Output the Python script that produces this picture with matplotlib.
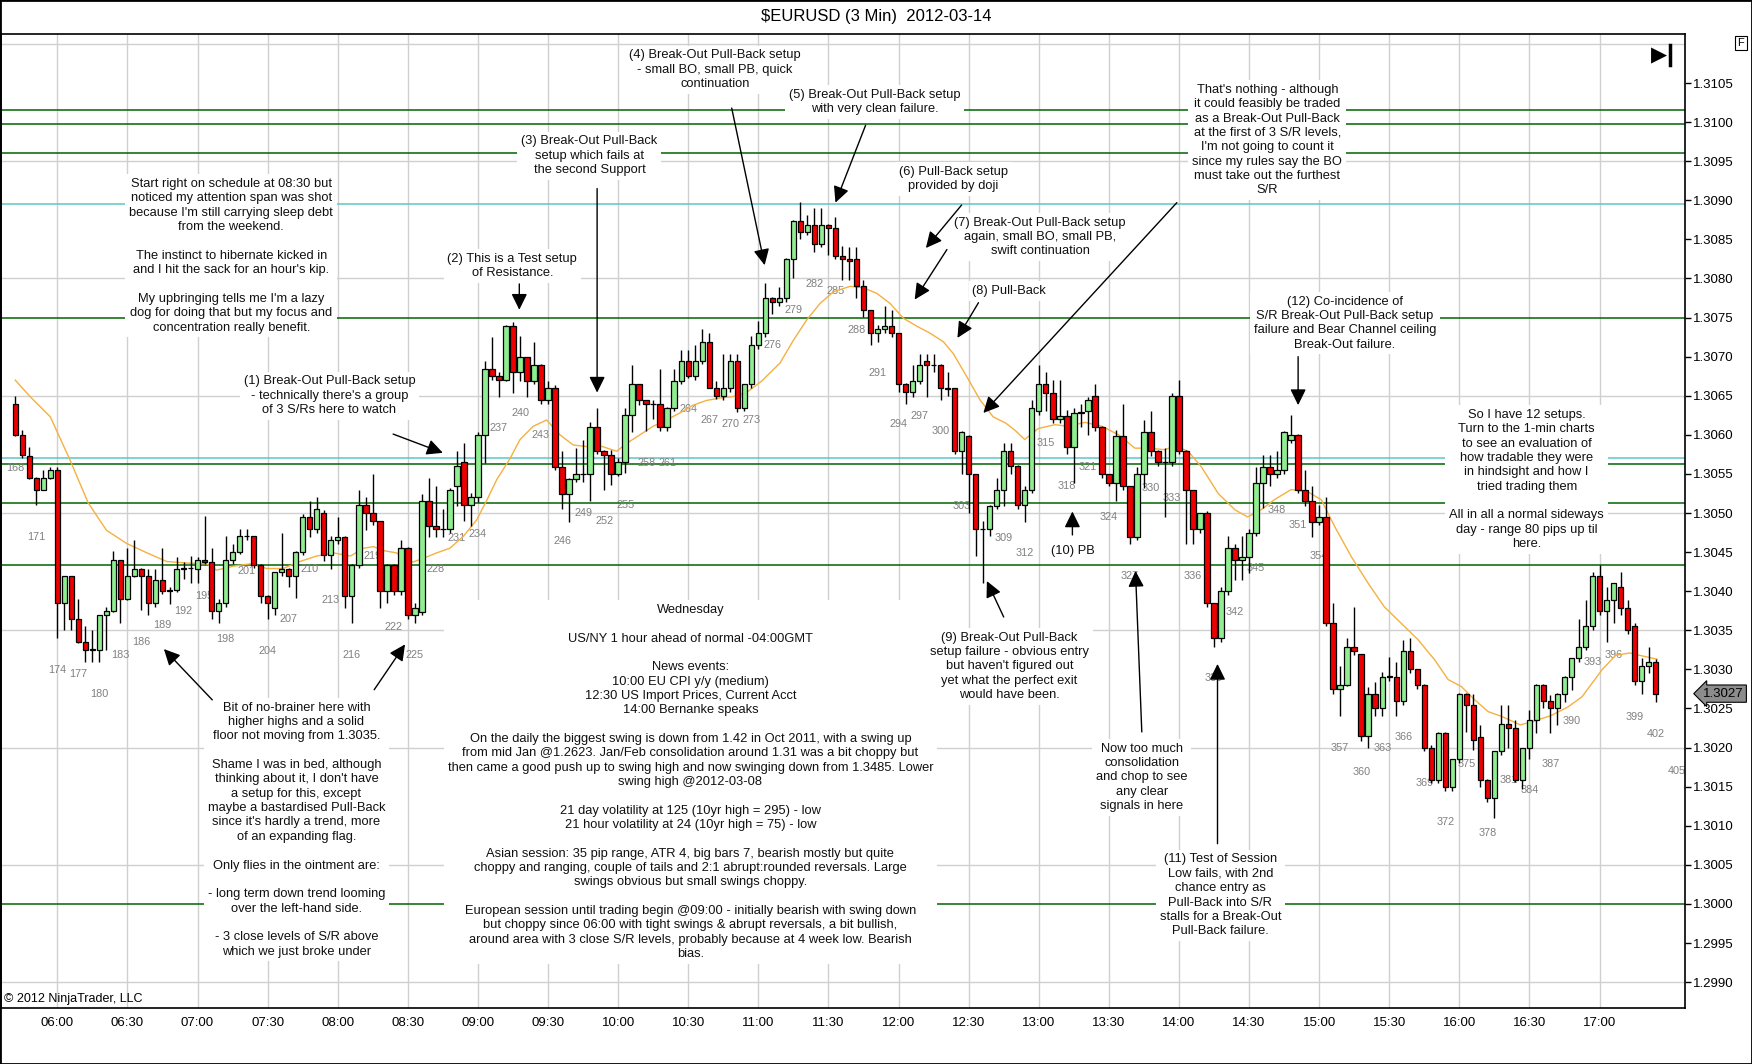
import matplotlib
matplotlib.use("Agg")
import matplotlib.pyplot as plt
from matplotlib.patches import Rectangle
from matplotlib.lines import Line2D
import numpy as np

plt.rcParams['font.family'] = ['Liberation Sans', 'DejaVu Sans']

TITLE = r"\$EURUSD (3 Min)  2012-03-14"
COPYRIGHT = "\u00a9 2012 NinjaTrader, LLC"

# first bar number drawn on the chart; one candle every 3 minutes
FIRST_BAR = 168

opens = [
    1.30640, 1.30600, 1.30573, 1.30545, 1.30530, 1.30545, 1.30555, 1.30385, 1.30419, 1.30364,
    1.30335, 1.30325, 1.30325, 1.30369, 1.30375, 1.30440, 1.30390, 1.30419, 1.30429, 1.30419,
    1.30385, 1.30414, 1.30400, 1.30401, 1.30429, 1.30430, 1.30429, 1.30440, 1.30437, 1.30375,
    1.30385, 1.30440, 1.30450, 1.30470, 1.30470, 1.30434, 1.30394, 1.30379, 1.30424, 1.30429,
    1.30420, 1.30450, 1.30495, 1.30479, 1.30500, 1.30446, 1.30465, 1.30469, 1.30394, 1.30434,
    1.30510, 1.30500, 1.30490, 1.30400, 1.30434, 1.30400, 1.30455, 1.30370, 1.30374, 1.30515,
    1.30484, 1.30479, 1.30479, 1.30535, 1.30565, 1.30510, 1.30520, 1.30600, 1.30684, 1.30675,
    1.30670, 1.30739, 1.30680, 1.30699, 1.30669, 1.30689, 1.30644, 1.30660, 1.30559, 1.30524,
    1.30544, 1.30550, 1.30550, 1.30610, 1.30579, 1.30574, 1.30550, 1.30565, 1.30625, 1.30665,
    1.30644, 1.30640, 1.30640, 1.30610, 1.30634, 1.30669, 1.30694, 1.30675, 1.30694, 1.30719,
    1.30660, 1.30650, 1.30660, 1.30694, 1.30634, 1.30665, 1.30715, 1.30730, 1.30775, 1.30770,
    1.30775, 1.30825, 1.30874, 1.30859, 1.30869, 1.30844, 1.30869, 1.30864, 1.30829, 1.30825,
    1.30825, 1.30790, 1.30760, 1.30730, 1.30735, 1.30739, 1.30730, 1.30665, 1.30655, 1.30669,
    1.30694, 1.30689, 1.30689, 1.30660, 1.30660, 1.30579, 1.30599, 1.30550, 1.30479, 1.30479,
    1.30509, 1.30530, 1.30579, 1.30560, 1.30510, 1.30530, 1.30630, 1.30665, 1.30654, 1.30620,
    1.30624, 1.30584, 1.30628, 1.30630, 1.30650, 1.30610, 1.30550, 1.30539, 1.30599, 1.30534,
    1.30469, 1.30550, 1.30604, 1.30579, 1.30565, 1.30565, 1.30650, 1.30579, 1.30530, 1.30479,
    1.30500, 1.30385, 1.30340, 1.30400, 1.30455, 1.30440, 1.30444, 1.30474, 1.30539, 1.30559,
    1.30550, 1.30555, 1.30594, 1.30600, 1.30530, 1.30515, 1.30489, 1.30495, 1.30359, 1.30275,
    1.30280, 1.30329, 1.30320, 1.30215, 1.30269, 1.30250, 1.30290, 1.30290, 1.30259, 1.30324,
    1.30300, 1.30280, 1.30199, 1.30159, 1.30219, 1.30149, 1.30185, 1.30269, 1.30255, 1.30214,
    1.30159, 1.30135, 1.30195, 1.30230, 1.30225, 1.30159, 1.30200, 1.30235, 1.30280, 1.30260,
    1.30250, 1.30269, 1.30290, 1.30314, 1.30329, 1.30355, 1.30419, 1.30375, 1.30389, 1.30405,
    1.30379, 1.30355, 1.30285, 1.30304, 1.30309,
]

highs = [
    1.30650, 1.30606, 1.30584, 1.30546, 1.30555, 1.30559, 1.30559, 1.30419, 1.30419, 1.30390,
    1.30355, 1.30351, 1.30369, 1.30380, 1.30451, 1.30440, 1.30455, 1.30466, 1.30430, 1.30429,
    1.30429, 1.30455, 1.30406, 1.30444, 1.30438, 1.30445, 1.30444, 1.30496, 1.30455, 1.30390,
    1.30470, 1.30461, 1.30480, 1.30480, 1.30471, 1.30435, 1.30395, 1.30425, 1.30474, 1.30430,
    1.30452, 1.30499, 1.30516, 1.30520, 1.30504, 1.30470, 1.30495, 1.30470, 1.30435, 1.30530,
    1.30521, 1.30550, 1.30490, 1.30435, 1.30435, 1.30466, 1.30456, 1.30385, 1.30524, 1.30545,
    1.30535, 1.30505, 1.30532, 1.30579, 1.30589, 1.30525, 1.30604, 1.30695, 1.30725, 1.30680,
    1.30740, 1.30744, 1.30726, 1.30700, 1.30719, 1.30690, 1.30669, 1.30664, 1.30579, 1.30545,
    1.30583, 1.30594, 1.30616, 1.30634, 1.30580, 1.30580, 1.30570, 1.30634, 1.30689, 1.30665,
    1.30644, 1.30644, 1.30684, 1.30635, 1.30684, 1.30709, 1.30709, 1.30715, 1.30735, 1.30730,
    1.30669, 1.30704, 1.30704, 1.30704, 1.30665, 1.30726, 1.30745, 1.30794, 1.30776, 1.30789,
    1.30826, 1.30875, 1.30898, 1.30881, 1.30890, 1.30890, 1.30870, 1.30879, 1.30841, 1.30840,
    1.30840, 1.30798, 1.30760, 1.30740, 1.30765, 1.30760, 1.30730, 1.30666, 1.30689, 1.30704,
    1.30704, 1.30704, 1.30690, 1.30680, 1.30660, 1.30605, 1.30600, 1.30550, 1.30490, 1.30510,
    1.30545, 1.30589, 1.30589, 1.30561, 1.30534, 1.30645, 1.30689, 1.30680, 1.30670, 1.30670,
    1.30632, 1.30634, 1.30640, 1.30649, 1.30665, 1.30611, 1.30550, 1.30606, 1.30640, 1.30534,
    1.30559, 1.30619, 1.30630, 1.30580, 1.30583, 1.30654, 1.30670, 1.30580, 1.30530, 1.30500,
    1.30503, 1.30385, 1.30406, 1.30470, 1.30460, 1.30470, 1.30480, 1.30559, 1.30574, 1.30574,
    1.30579, 1.30605, 1.30626, 1.30601, 1.30555, 1.30535, 1.30510, 1.30520, 1.30385, 1.30304,
    1.30340, 1.30380, 1.30320, 1.30278, 1.30284, 1.30297, 1.30316, 1.30310, 1.30338, 1.30340,
    1.30301, 1.30281, 1.30203, 1.30220, 1.30220, 1.30186, 1.30270, 1.30270, 1.30269, 1.30229,
    1.30160, 1.30196, 1.30255, 1.30254, 1.30235, 1.30200, 1.30248, 1.30281, 1.30281, 1.30267,
    1.30270, 1.30291, 1.30314, 1.30364, 1.30389, 1.30424, 1.30434, 1.30406, 1.30410, 1.30425,
    1.30389, 1.30359, 1.30314, 1.30329, 1.30313,
]

lows = [
    1.30598, 1.30570, 1.30543, 1.30510, 1.30529, 1.30543, 1.30340, 1.30351, 1.30351, 1.30334,
    1.30310, 1.30309, 1.30309, 1.30325, 1.30374, 1.30359, 1.30389, 1.30418, 1.30376, 1.30370,
    1.30380, 1.30397, 1.30384, 1.30399, 1.30415, 1.30410, 1.30410, 1.30435, 1.30364, 1.30359,
    1.30380, 1.30435, 1.30448, 1.30466, 1.30430, 1.30385, 1.30364, 1.30370, 1.30420, 1.30405,
    1.30391, 1.30446, 1.30469, 1.30475, 1.30439, 1.30429, 1.30460, 1.30379, 1.30359, 1.30430,
    1.30478, 1.30485, 1.30379, 1.30385, 1.30395, 1.30395, 1.30365, 1.30359, 1.30370, 1.30469,
    1.30469, 1.30469, 1.30475, 1.30509, 1.30490, 1.30483, 1.30514, 1.30564, 1.30670, 1.30649,
    1.30669, 1.30654, 1.30669, 1.30649, 1.30665, 1.30640, 1.30640, 1.30555, 1.30505, 1.30489,
    1.30540, 1.30540, 1.30515, 1.30575, 1.30530, 1.30536, 1.30548, 1.30551, 1.30604, 1.30638,
    1.30605, 1.30620, 1.30605, 1.30605, 1.30630, 1.30665, 1.30673, 1.30670, 1.30690, 1.30660,
    1.30646, 1.30645, 1.30655, 1.30629, 1.30630, 1.30660, 1.30710, 1.30725, 1.30755, 1.30765,
    1.30770, 1.30800, 1.30850, 1.30855, 1.30834, 1.30840, 1.30830, 1.30825, 1.30798, 1.30798,
    1.30775, 1.30751, 1.30715, 1.30719, 1.30730, 1.30725, 1.30655, 1.30640, 1.30649, 1.30665,
    1.30649, 1.30680, 1.30645, 1.30650, 1.30575, 1.30550, 1.30500, 1.30445, 1.30410, 1.30470,
    1.30505, 1.30509, 1.30550, 1.30505, 1.30489, 1.30525, 1.30625, 1.30630, 1.30615, 1.30615,
    1.30575, 1.30539, 1.30610, 1.30600, 1.30605, 1.30545, 1.30535, 1.30515, 1.30530, 1.30460,
    1.30465, 1.30532, 1.30573, 1.30560, 1.30495, 1.30560, 1.30575, 1.30460, 1.30460, 1.30475,
    1.30380, 1.30329, 1.30335, 1.30395, 1.30414, 1.30414, 1.30423, 1.30470, 1.30506, 1.30534,
    1.30545, 1.30550, 1.30590, 1.30525, 1.30509, 1.30469, 1.30485, 1.30355, 1.30269, 1.30240,
    1.30279, 1.30318, 1.30209, 1.30199, 1.30240, 1.30240, 1.30285, 1.30240, 1.30254, 1.30295,
    1.30275, 1.30195, 1.30155, 1.30155, 1.30145, 1.30145, 1.30180, 1.30220, 1.30197, 1.30150,
    1.30131, 1.30110, 1.30190, 1.30199, 1.30156, 1.30147, 1.30186, 1.30219, 1.30250, 1.30219,
    1.30229, 1.30258, 1.30274, 1.30310, 1.30325, 1.30350, 1.30370, 1.30335, 1.30359, 1.30370,
    1.30345, 1.30280, 1.30269, 1.30295, 1.30258,
]

closes = [
    1.30600, 1.30574, 1.30545, 1.30530, 1.30545, 1.30555, 1.30385, 1.30419, 1.30364, 1.30335,
    1.30325, 1.30326, 1.30369, 1.30375, 1.30440, 1.30390, 1.30419, 1.30429, 1.30419, 1.30385,
    1.30414, 1.30400, 1.30401, 1.30429, 1.30430, 1.30430, 1.30440, 1.30437, 1.30375, 1.30385,
    1.30440, 1.30450, 1.30470, 1.30471, 1.30434, 1.30394, 1.30385, 1.30424, 1.30429, 1.30420,
    1.30450, 1.30495, 1.30479, 1.30505, 1.30446, 1.30465, 1.30469, 1.30394, 1.30434, 1.30510,
    1.30500, 1.30490, 1.30400, 1.30434, 1.30400, 1.30455, 1.30370, 1.30379, 1.30515, 1.30484,
    1.30479, 1.30480, 1.30530, 1.30560, 1.30510, 1.30520, 1.30600, 1.30684, 1.30675, 1.30670,
    1.30739, 1.30680, 1.30699, 1.30669, 1.30689, 1.30644, 1.30660, 1.30559, 1.30524, 1.30544,
    1.30550, 1.30550, 1.30610, 1.30579, 1.30574, 1.30550, 1.30565, 1.30625, 1.30665, 1.30644,
    1.30640, 1.30639, 1.30610, 1.30634, 1.30669, 1.30694, 1.30675, 1.30694, 1.30719, 1.30660,
    1.30650, 1.30660, 1.30694, 1.30634, 1.30665, 1.30715, 1.30730, 1.30775, 1.30770, 1.30775,
    1.30825, 1.30874, 1.30859, 1.30869, 1.30844, 1.30869, 1.30864, 1.30829, 1.30825, 1.30822,
    1.30790, 1.30760, 1.30730, 1.30735, 1.30739, 1.30730, 1.30665, 1.30655, 1.30669, 1.30689,
    1.30689, 1.30689, 1.30660, 1.30659, 1.30579, 1.30604, 1.30550, 1.30479, 1.30480, 1.30509,
    1.30530, 1.30579, 1.30560, 1.30510, 1.30530, 1.30634, 1.30665, 1.30654, 1.30620, 1.30624,
    1.30584, 1.30628, 1.30629, 1.30645, 1.30610, 1.30550, 1.30539, 1.30599, 1.30534, 1.30469,
    1.30550, 1.30604, 1.30579, 1.30565, 1.30565, 1.30650, 1.30579, 1.30530, 1.30479, 1.30500,
    1.30385, 1.30340, 1.30400, 1.30455, 1.30440, 1.30444, 1.30474, 1.30539, 1.30559, 1.30550,
    1.30555, 1.30604, 1.30600, 1.30530, 1.30515, 1.30489, 1.30495, 1.30359, 1.30275, 1.30280,
    1.30329, 1.30324, 1.30215, 1.30269, 1.30250, 1.30290, 1.30291, 1.30259, 1.30324, 1.30300,
    1.30280, 1.30199, 1.30159, 1.30219, 1.30149, 1.30185, 1.30269, 1.30255, 1.30210, 1.30159,
    1.30135, 1.30195, 1.30230, 1.30225, 1.30159, 1.30200, 1.30235, 1.30280, 1.30260, 1.30250,
    1.30269, 1.30290, 1.30314, 1.30329, 1.30355, 1.30419, 1.30375, 1.30389, 1.30410, 1.30379,
    1.30350, 1.30285, 1.30304, 1.30309, 1.30269,
]

# moving average (orange line) at these bar positions
ma_bars = [
    168.0, 170.1, 173.0, 175.8, 178.4, 181.0, 183.9, 186.8, 189.6, 192.5,
    195.3, 196.7, 199.1, 201.5, 203.9, 206.2, 208.6, 211.0, 213.4, 215.8,
    217.7, 219.1, 220.5, 222.4, 224.3, 226.2, 228.1, 230.0, 231.9, 233.8,
    235.3, 236.7, 238.6, 240.0, 241.9, 243.8, 245.7, 247.6, 249.5, 251.4,
    253.8, 255.2, 257.1, 259.0, 260.9, 262.8, 264.7, 266.6, 268.5, 270.4,
    272.3, 274.5, 277.1, 279.0, 280.9, 282.8, 284.7, 287.1, 289.0, 290.9,
    292.8, 294.7, 296.6, 298.5, 300.4, 301.8, 303.7, 305.6, 307.5, 309.3,
    310.6, 312.0, 313.9, 316.3, 318.2, 320.6, 323.0, 325.4, 327.7, 329.6,
    332.0, 333.4, 335.3, 337.2, 339.6, 342.0, 343.8, 345.7, 347.6, 350.0,
    352.4, 354.3, 356.2, 358.6, 361.0, 363.3, 365.7, 368.1, 370.5, 372.4,
    374.3, 376.2, 378.1, 380.0, 382.7, 384.7, 387.1, 389.5, 391.5, 392.9,
    394.4, 396.3, 398.3, 400.2, 402.2,
]
ma_prices = [
    1.30670, 1.30649, 1.30623, 1.30568, 1.30513, 1.30478, 1.30461, 1.30449, 1.30438, 1.30436,
    1.30435, 1.30427, 1.30432, 1.30435, 1.30429, 1.30429, 1.30438, 1.30445, 1.30449, 1.30445,
    1.30455, 1.30457, 1.30452, 1.30449, 1.30436, 1.30442, 1.30449, 1.30455, 1.30470, 1.30491,
    1.30517, 1.30543, 1.30570, 1.30594, 1.30611, 1.30619, 1.30600, 1.30587, 1.30585, 1.30586,
    1.30579, 1.30589, 1.30600, 1.30611, 1.30619, 1.30628, 1.30638, 1.30644, 1.30647, 1.30649,
    1.30654, 1.30669, 1.30692, 1.30721, 1.30747, 1.30768, 1.30783, 1.30790, 1.30788, 1.30781,
    1.30768, 1.30749, 1.30739, 1.30730, 1.30719, 1.30704, 1.30675, 1.30645, 1.30623, 1.30615,
    1.30606, 1.30594, 1.30608, 1.30613, 1.30611, 1.30616, 1.30611, 1.30600, 1.30583, 1.30583,
    1.30581, 1.30586, 1.30579, 1.30559, 1.30525, 1.30504, 1.30495, 1.30504, 1.30517, 1.30530,
    1.30527, 1.30517, 1.30483, 1.30444, 1.30410, 1.30380, 1.30359, 1.30338, 1.30312, 1.30287,
    1.30278, 1.30261, 1.30246, 1.30240, 1.30229, 1.30234, 1.30241, 1.30252, 1.30265, 1.30282,
    1.30300, 1.30318, 1.30321, 1.30317, 1.30313,
]

# support / resistance lines drawn by hand on the chart
sr_levels = [1.31015, 1.30997, 1.30961, 1.30895, 1.30750,
             1.30571, 1.30563, 1.30513, 1.30434, 1.30000]
sr_kinds = ['g', 'g', 'g', 'c', 'g', 'c', 'g', 'g', 'g', 'g']

time_labels = ["06:00", "06:30", "07:00", "07:30", "08:00", "08:30", "09:00",
               "09:30", "10:00", "10:30", "11:00", "11:30", "12:00", "12:30",
               "13:00", "13:30", "14:00", "14:30", "15:00", "15:30", "16:00",
               "16:30", "17:00"]
TIME_FIRST_BAR = 174   # bar closing at 06:00
BARS_PER_TICK = 10     # 30 minutes of 3 min bars

# bar number shown past the last candle, and numbers not shown on the chart
extra_bar_label = 405
extra_bar_label_price = 1.30170
hidden_bar_labels = [306]

UP_COLOR = '#90EE90'
DOWN_COLOR = '#EE0000'
GREEN_LINE = '#006400'
CYAN_LINE = '#5CC8C8'
MA_COLOR = '#F5B041'
GRID_COLOR = '#D0D0D0'

# notes: text, bar position, price position
notes = [
    ("Start right on schedule at 08:30 but\nnoticed my attention span was shot\n"
     "because I'm still carrying sleep debt\nfrom the weekend.\n\n"
     "The instinct to hibernate kicked in\nand I hit the sack for an hour's kip.\n\n"
     "My upbringing tells me I'm a lazy\ndog for doing that but my focus and\n"
     "concentration really benefit.", 198.8, 1.30829),
    ("(2) This is a Test setup\nof Resistance.", 238.9, 1.30816),
    ("(3) Break-Out Pull-Back\nsetup which fails at\nthe second Support", 249.9, 1.30957),
    ("(4) Break-Out Pull-Back setup\n- small BO, small PB, quick\ncontinuation", 267.8, 1.31067),
    ("(5) Break-Out Pull-Back setup\nwith very clean failure.", 290.6, 1.31026),
    ("(6) Pull-Back setup\nprovided by doji", 301.8, 1.30927),
    ("(7) Break-Out Pull-Back setup\nagain, small BO, small PB,\nswift continuation", 314.2, 1.30853),
    ("(8) Pull-Back", 309.8, 1.30784),
    ("That's nothing - although\nit could feasibly be traded\nas a Break-Out Pull-Back\n"
     "at the first of 3 S/R levels,\nI'm not going to count it\nsince my rules say the BO\n"
     "must take out the furthest\nS/R", 346.6, 1.30977),
    ("(12) Co-incidence of\nS/R Break-Out Pull-Back setup\nfailure and Bear Channel ceiling\n"
     "Break-Out failure.", 357.7, 1.30743),
    ("So I have 12 setups.\nTurn to the 1-min charts\nto see an evaluation of\n"
     "how tradable they were\nin hindsight and how I\ntried trading them\n\n"
     "All in all a normal sideways\nday - range 80 pips up til\nhere.", 383.6, 1.30543),
    ("(1) Break-Out Pull-Back setup\n- technically there's a group\nof 3 S/Rs here to watch",
     212.8, 1.30650),
    ("Bit of no-brainer here with\nhigher highs and a solid\nfloor not moving from 1.3035.\n\n"
     "Shame I was in bed, although\nthinking about it, I don't have\na setup for this, except\n"
     "maybe a bastardised Pull-Back\nsince it's hardly a trend, more\nof an expanding flag.\n\n"
     "Only flies in the ointment are:\n\n- long term down trend looming\nover the left-hand side.\n\n"
     "- 3 close levels of S/R above\nwhich we just broke under", 208.1, 1.30095),
    ("Wednesday\n\nUS/NY 1 hour ahead of normal -04:00GMT\n\nNews events:\n"
     "10:00 EU CPI y/y (medium)\n12:30 US Import Prices, Current Acct\n14:00 Bernanke speaks\n\n"
     "On the daily the biggest swing is down from 1.42 in Oct 2011, with a swing up\n"
     "from mid Jan @1.2623. Jan/Feb consolidation around 1.31 was a bit choppy but\n"
     "then came a good push up to swing high and now swinging down from 1.3485. Lower\n"
     "swing high @2012-03-08\n\n"
     "21 day volatility at 125 (10yr high = 295) - low\n21 hour volatility at 24 (10yr high = 75) - low\n\n"
     "Asian session: 35 pip range, ATR 4, big bars 7, bearish mostly but quite\n"
     "choppy and ranging, couple of tails and 2:1 abrupt:rounded reversals. Large\n"
     "swings obvious but small swings choppy.\n\n"
     "European session until trading begin @09:00 - initially bearish with swing down\n"
     "but choppy since 06:00 with tight swings & abrupt reversals, a bit bullish,\n"
     "around area with 3 close S/R levels, probably because at 4 week low. Bearish\nbias.",
     264.3, 1.30156),
    ("(10) PB", 318.8, 1.30451),
    ("(9) Break-Out Pull-Back\nsetup failure - obvious entry\nbut haven't figured out\n"
     "yet what the perfect exit\nwould have been.", 309.8, 1.30304),
    ("Now too much\nconsolidation\nand chop to see\nany clear\nsignals in here", 328.7, 1.30162),
    ("(11) Test of Session\nLow fails, with 2nd\nchance entry as\nPull-Back into S/R\n"
     "stalls for a Break-Out\nPull-Back failure.", 339.9, 1.30011),
]

# arrows: (tail bar, tail price, tip bar, tip price)
arrows = [
    (221.9, 1.30601, 229.0, 1.30577),
    (239.9, 1.30793, 239.9, 1.30760),
    (251.0, 1.30915, 251.0, 1.30654),
    (270.2, 1.31018, 274.9, 1.30817),
    (289.3, 1.30996, 285.0, 1.30897),
    (303.0, 1.30894, 297.9, 1.30839),
    (300.9, 1.30837, 296.3, 1.30773),
    (305.4, 1.30769, 302.4, 1.30724),
    (333.7, 1.30897, 306.1, 1.30628),
    (351.0, 1.30700, 351.0, 1.30638),
    (196.1, 1.30261, 189.2, 1.30326),
    (219.2, 1.30274, 223.6, 1.30332),
    (318.8, 1.30472, 318.8, 1.30502),
    (309.0, 1.30367, 306.6, 1.30413),
    (328.7, 1.30220, 327.8, 1.30426),
    (339.5, 1.30077, 339.5, 1.30307),
]


def draw_grid_and_levels(ax):
    for i in range(len(time_labels)):
        ax.axvline(TIME_FIRST_BAR + i * BARS_PER_TICK, color=GRID_COLOR, lw=1, zorder=0)
    for p in np.arange(1.2990, 1.3111, 0.0015):
        ax.axhline(p, color=GRID_COLOR, lw=1, zorder=0)
    for level, kind in zip(sr_levels, sr_kinds):
        ax.axhline(level, color=GREEN_LINE if kind == 'g' else CYAN_LINE, lw=1.1, zorder=1)


def draw_candles(ax):
    bars = np.arange(FIRST_BAR, FIRST_BAR + len(closes))
    o = np.array(opens)
    h = np.array(highs)
    l = np.array(lows)
    c = np.array(closes)
    up = c >= o
    ax.vlines(bars, l, h, color='black', lw=1, zorder=4)
    colors = np.where(up, UP_COLOR, DOWN_COLOR)
    ax.bar(bars, np.abs(c - o), bottom=np.minimum(o, c), width=0.78,
           color=colors, edgecolor='black', linewidth=0.9, zorder=5)
    # bar numbers every 3 bars, under the low
    gap = 0.000405
    for b in range(FIRST_BAR, FIRST_BAR + len(closes), 3):
        if b in hidden_bar_labels:
            continue
        ax.text(b, lows[b - FIRST_BAR] - gap, str(b), ha='center', va='center',
                fontsize=7.8, color='#808080', zorder=2)
    ax.text(extra_bar_label, extra_bar_label_price, str(extra_bar_label), ha='center',
            va='center', fontsize=7.8, color='#808080', zorder=2)


def draw_notes(ax):
    for text, bx, py in notes:
        ax.text(bx, py, text, ha='center', va='center', multialignment='center',
                fontsize=9.3, linespacing=1.26, color='#101010', zorder=3,
                bbox=dict(boxstyle='square,pad=0.3', fc='white', ec='none'))
    for tx, ty, hx, hy in arrows:
        ax.annotate('', xy=(hx, hy), xytext=(tx, ty), zorder=7,
                    arrowprops=dict(arrowstyle='-|>,head_length=0.65,head_width=0.32',
                                    mutation_scale=15, color='black', lw=1,
                                    shrinkA=0, shrinkB=0))


def main():
    fig = plt.figure(figsize=(17.52, 10.64), dpi=100)
    ax = fig.add_axes([0.0006, 0.0522, 0.9612, 0.9159])
    ax.set_xlim(165.97, 406.2)
    ax.set_ylim(1.298663, 1.311128)

    draw_grid_and_levels(ax)
    ax.plot(ma_bars, ma_prices, color=MA_COLOR, lw=1.0, zorder=3.5)
    draw_candles(ax)
    draw_notes(ax)

    ax.set_xticks([TIME_FIRST_BAR + i * BARS_PER_TICK for i in range(len(time_labels))])
    ax.set_xticklabels(time_labels)
    ax.tick_params(axis='x', length=0, pad=6, labelsize=9.5)
    yt = np.arange(1.2990, 1.31051, 0.0005)
    ax.set_yticks(yt)
    ax.set_yticklabels([f"{v:.4f}" for v in yt])
    ax.yaxis.tick_right()
    ax.tick_params(axis='y', direction='out', length=4, width=1, pad=2, labelsize=9.5)
    for s in ax.spines.values():
        s.set_linewidth(1.2)

    # last price tag
    ax.annotate(f"{closes[-1]:.4f}", xy=(1.0, closes[-1]), xycoords=('axes fraction', 'data'),
                xytext=(13, 0), textcoords='offset points', ha='left', va='center',
                fontsize=9.5, color='black', annotation_clip=False,
                bbox=dict(boxstyle='larrow,pad=0.2', fc='#8C8C8C', ec='black', lw=0.8))

    fig.text(0.5, 1 - 16 / 1064, TITLE, ha='center', va='center', fontsize=12)
    fig.text(4 / 1752, 1 - 999 / 1064, COPYRIGHT, ha='left', va='center', fontsize=9)
    fig.text(1741 / 1752, 1 - 43 / 1064, "F", ha='center', va='center', fontsize=8,
             bbox=dict(boxstyle='square,pad=0.2', fc='white', ec='black', lw=0.8))
    fig.text(1659 / 1752, 1 - 55 / 1064, "\u25B6", ha='center', va='center', fontsize=15,
             family='DejaVu Sans')
    fig.add_artist(Line2D([1670 / 1752] * 2, [1 - 45 / 1064, 1 - 65 / 1064],
                          lw=2.5, color='black'))
    fig.add_artist(Rectangle((0, 0), 1, 1, transform=fig.transFigure, fill=False,
                             ec='black', lw=2))

    fig.savefig("out.png", dpi=100)


if __name__ == "__main__":
    main()
